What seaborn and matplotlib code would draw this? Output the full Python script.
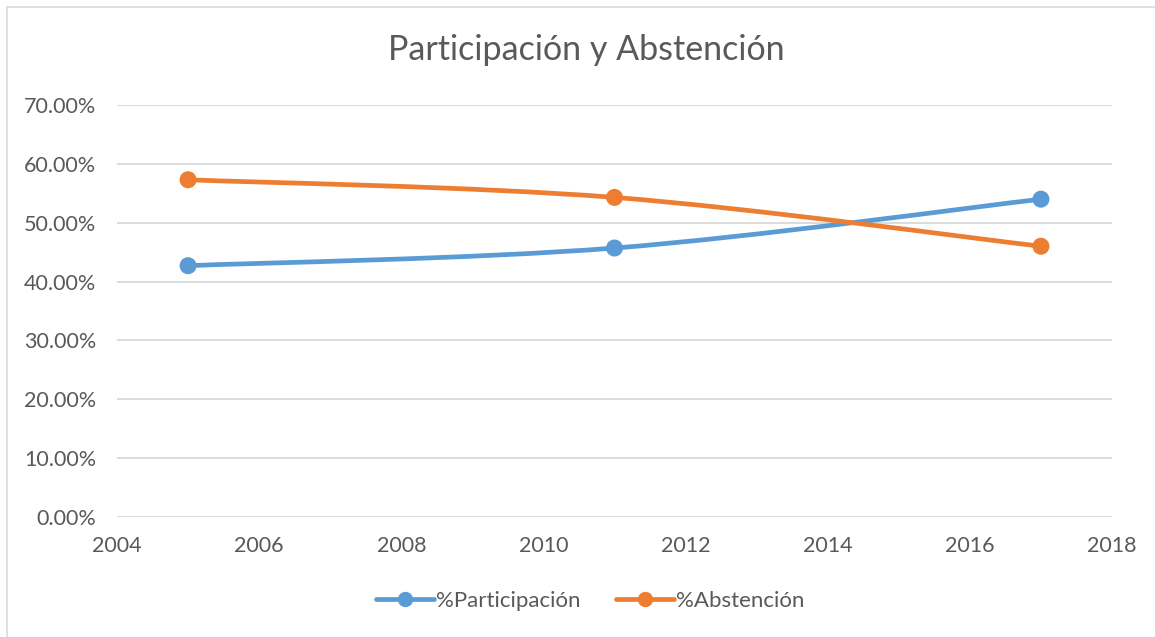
import numpy as np
import pandas as pd
import matplotlib
matplotlib.use("Agg")
import matplotlib.pyplot as plt
from matplotlib.path import Path
from matplotlib.patches import PathPatch
from matplotlib.lines import Line2D
from matplotlib.ticker import FuncFormatter, MultipleLocator
import seaborn as sns

years = [2005, 2011, 2017]
participacion = [0.427, 0.457, 0.540]
abstencion = [0.573, 0.543, 0.460]
series_names = ["%Participación", "%Abstención"]
title = "Participación y Abstención"

colors = ["#5B9BD5", "#ED7D31"]
text_color = "#595959"
grid_color = "#D9D9D9"

sns.set_theme(style="white")
plt.rcParams["font.family"] = ["Lato", "DejaVu Sans"]

df = pd.DataFrame({
    "year": years * 2,
    "value": participacion + abstencion,
    "series": [series_names[0]] * len(years) + [series_names[1]] * len(years),
})

fig = plt.figure(figsize=(11.55, 6.37), dpi=100)
ax = fig.add_axes([117 / 1155, 1 - 517 / 637, (1112 - 117) / 1155, (517 - 105) / 637])

ax.set_xlim(2004, 2018)
ax.set_ylim(0, 0.70)
ax.yaxis.set_major_locator(MultipleLocator(0.10))
ax.xaxis.set_major_locator(MultipleLocator(2))
ax.yaxis.set_major_formatter(FuncFormatter(lambda v, p: f"{v*100:.2f}%"))
ax.grid(axis="y", color=grid_color, linewidth=1.3)
ax.set_axisbelow(True)
for s in ax.spines.values():
    s.set_visible(False)
ax.tick_params(axis="both", length=0, labelsize=15.5, colors=text_color)
ax.tick_params(axis="y", pad=15)
ax.tick_params(axis="x", pad=14)


def smooth_path(xs, ys):
    pts = np.column_stack([xs, ys]).astype(float)
    n = len(pts)
    verts = [pts[0]]
    codes = [Path.MOVETO]
    for i in range(n - 1):
        p0 = pts[max(i - 1, 0)]
        p1 = pts[i]
        p2 = pts[i + 1]
        p3 = pts[min(i + 2, n - 1)]
        c1 = p1 + (p2 - p0) / 6.0
        c2 = p2 - (p3 - p1) / 6.0
        verts += [c1, c2, p2]
        codes += [Path.CURVE4] * 3
    return Path(verts, codes)


for name, col in zip(series_names, colors):
    sub = df[df["series"] == name]
    patch = PathPatch(smooth_path(sub["year"].values, sub["value"].values),
                      facecolor="none", edgecolor=col, linewidth=3.4,
                      capstyle="round", joinstyle="round", zorder=3)
    ax.add_patch(patch)

sns.scatterplot(data=df, x="year", y="value", hue="series", palette=colors,
                s=150, edgecolor="none", legend=False, ax=ax, zorder=4)
ax.set_xlabel("")
ax.set_ylabel("")

fig.text(586 / 1155, 1 - 50 / 637, title, ha="center", va="center",
         fontsize=24.5, color=text_color)

handles = [Line2D([0], [0], color=c, linewidth=3.4, marker="o", markersize=10,
                  solid_capstyle="round") for c in colors]
fig.legend(handles, series_names, loc="center", bbox_to_anchor=(590 / 1155, 1 - 601 / 637),
           ncol=2, frameon=False, fontsize=16, labelcolor=text_color,
           handlelength=2.6, handletextpad=0.1, columnspacing=1.6)

# chart-area border (left and top visible)
fig.add_artist(Line2D([6.5 / 1155, 6.5 / 1155], [0, 1 - 6.5 / 637], color="#D9D9D9",
                      linewidth=1.2, transform=fig.transFigure))
fig.add_artist(Line2D([6.5 / 1155, 1], [1 - 6.5 / 637, 1 - 6.5 / 637], color="#D9D9D9",
                      linewidth=1.2, transform=fig.transFigure))

fig.savefig("out.png", dpi=100, facecolor="white")
